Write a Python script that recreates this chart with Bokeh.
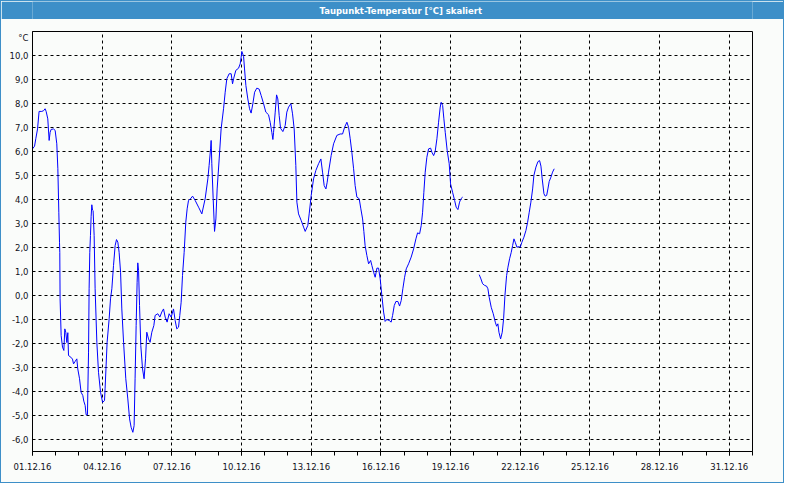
from bokeh.plotting import figure
from bokeh.models import Range1d, FixedTicker, Label
from bokeh.layouts import column
from bokeh.embed import file_html
from bokeh.resources import INLINE

# ---------------- data ----------------
title_text = "Taupunkt-Temperatur [°C] skaliert"
unit_label = "°C"

x_tick_days = [0, 3, 6, 9, 12, 15, 18, 21, 24, 27, 30]
x_tick_labels = ["01.12.16", "04.12.16", "07.12.16", "10.12.16", "13.12.16", "16.12.16",
                 "19.12.16", "22.12.16", "25.12.16", "28.12.16", "31.12.16"]
x_minor_days = list(range(0, 32))

y_ticks = [-6, -5, -4, -3, -2, -1, 0, 1, 2, 3, 4, 5, 6, 7, 8, 9, 10]
y_tick_labels = ["-6,0", "-5,0", "-4,0", "-3,0", "-2,0", "-1,0", "0,0", "1,0", "2,0",
                 "3,0", "4,0", "5,0", "6,0", "7,0", "8,0", "9,0", "10,0"]
unit_tick = 10.75

# hours since 01.12.16 00:00, dew point in °C (first segment)
hours_a = [0.0, 2.1, 3.4, 5.2, 6.8, 9.6, 11.4, 13.0, 14.1, 15.8, 17.2, 18.2, 19.2, 21.7, 23.4,
           25.1, 26.2, 27.2, 27.9, 28.2, 28.5, 29.6, 31.0, 32.4, 33.4, 34.4, 35.5, 36.5, 37.2,
           39.6, 41.3, 42.4, 44.0, 45.8, 46.8, 48.6, 50.2, 52.0, 53.0, 54.4, 55.4, 56.8, 57.2,
           57.9, 58.5, 59.2, 59.9, 60.6, 61.3, 62.0, 62.6, 63.7, 64.7, 66.5, 68.2, 70.3, 72.4,
           74.4, 75.0, 77.1, 79.2, 80.6, 82.0, 83.7, 85.4, 86.8, 88.2, 89.5, 91.0, 92.3, 94.1,
           96.4, 98.5, 100.3, 101.9, 103.7, 105.0, 106.0, 107.1, 108.1, 108.8, 109.6, 110.6,
           111.9, 113.7, 115.3, 116.8, 118.1, 119.9, 121.5, 123.3, 125.4, 126.7, 129.5, 131.6,
           133.6, 135.4, 137.1, 139.1, 141.2, 143.3, 145.7, 147.4, 149.1, 150.9, 152.2, 153.6,
           155.0, 156.7, 158.4, 159.8, 161.2, 163.3, 165.4, 168.1, 171.6, 175.0, 178.4, 181.2,
           182.5, 184.0, 184.6, 185.3, 186.7, 188.1, 189.5, 190.8, 192.9, 194.9, 197.4, 199.1,
           200.8, 203.2, 205.3, 206.7, 207.8, 210.1, 212.9, 214.6, 215.6, 216.3, 218.1, 219.1,
           220.5, 222.5, 224.3, 225.9, 227.7, 229.5, 231.8, 234.2, 236.3, 238.8, 241.1, 243.9,
           245.6, 247.3, 248.4, 249.1, 250.8, 252.2, 253.5, 254.9, 256.3, 258.7, 261.1, 262.8,
           264.6, 267.0, 268.7, 270.4, 272.1, 273.2, 274.9, 277.6, 280.1, 281.8, 284.5, 285.9,
           288.0, 290.4, 292.8, 295.6, 298.0, 299.7, 301.4, 303.2, 304.5, 305.9, 308.6, 311.1,
           314.5, 317.9, 320.4, 322.5, 324.9, 326.6, 328.3, 330.0, 331.8, 333.4, 335.2, 337.6,
           339.3, 341.1, 342.4, 343.7, 345.5, 347.3, 349.4, 350.7, 352.5, 354.1, 355.9, 357.6,
           359.3, 361.0, 362.8, 364.4, 366.2, 368.6, 370.6, 372.1, 373.8, 375.5, 377.6, 379.3,
           381.0, 382.7, 384.5, 386.2, 388.6, 391.3, 393.8, 396.2, 397.9, 400.0, 401.7, 403.1,
           404.4, 405.8, 407.5, 409.3, 411.4, 412.7, 414.5, 416.1, 417.9, 419.6, 421.3, 422.3,
           423.8, 425.1, 426.5, 428.5, 430.6, 432.0, 434.1, 436.2, 437.8, 439.6, 441.3, 442.7,
           444.5]
dew_a = [6.11, 6.22, 6.53, 6.94, 7.67, 7.67, 7.70, 7.78, 7.67, 7.36, 6.46, 6.80, 6.92, 6.94, 6.88,
         6.32, 5.28, 3.47, 2.22, 1.80, -0.14, -1.67, -2.15, -2.29, -1.39, -1.53, -1.96, -1.55, -2.50,
         -2.57, -2.65, -2.85, -2.75, -2.64, -3.06, -3.47, -4.03, -4.17, -4.40, -4.58, -4.97, -4.97, -3.96,
         -2.36, 0.28, 1.80, 2.50, 3.30, 3.78, 3.56, 3.54, 2.50, 0.28, -1.95, -3.20, -4.03, -4.45,
         -4.38, -3.89, -1.95, -0.97, -0.14, 0.28, 1.25, 2.08, 2.33, 2.22, 1.80, 0.97, -0.56, -1.95,
         -3.47, -4.31, -5.14, -5.49, -5.70, -5.42, -3.47, -1.25, 0.55, 1.36, 1.04, -0.42,
         -2.08, -3.06, -3.47, -2.64, -1.53, -1.81, -1.95, -1.53, -1.25, -0.83, -0.76, -0.90,
         -0.69, -0.56, -0.90, -1.11, -0.76, -0.90, -0.56, -1.04, -1.39, -1.32, -0.83, -0.28,
         0.83, 1.80, 3.05, 3.61, 3.96, 4.03, 4.14, 3.96, 3.68, 3.40, 4.03, 4.86,
         5.42, 6.11, 6.46, 5.49, 4.03, 2.67, 3.19, 4.44, 5.69, 6.94, 7.78, 8.47,
         9.03, 9.24, 9.24, 8.82, 9.03, 9.38, 9.47, 9.65, 9.93, 10.17, 9.97, 9.44,
         8.75, 8.19, 7.78, 7.60, 7.99, 8.47, 8.64, 8.60, 8.33, 7.99, 7.64, 7.53,
         7.22, 6.80, 6.50, 6.80, 7.64, 8.36, 8.19, 7.50, 6.97, 6.83, 7.08, 7.64,
         7.85, 7.99, 7.57, 6.94, 5.42, 3.89, 3.40, 3.13, 2.85, 2.67, 2.92, 3.40,
         4.17, 4.86, 5.21, 5.49, 5.69, 5.14, 4.58, 4.44, 4.72, 5.14, 5.83, 6.32,
         6.67, 6.73, 6.73, 7.01, 7.22, 7.01, 6.53, 5.97, 5.28, 4.58, 4.10, 4.03,
         3.61, 3.19, 2.67, 2.08, 1.67, 1.32, 1.46, 1.25, 0.97, 0.76, 1.14, 1.14,
         0.69, 0.00, -0.69, -1.08, -1.00, -1.04, -1.11, -0.83, -0.42, -0.25, -0.25, -0.44,
         -0.21, 0.28, 0.76, 1.11, 1.32, 1.60, 1.94, 2.36, 2.61, 2.57, 2.92, 3.47,
         4.30, 5.14, 5.76, 6.11, 6.14, 5.97, 5.83, 6.00, 6.53, 7.22, 7.85, 8.05,
         7.92, 7.36, 6.80, 6.04, 5.49, 4.65, 4.30, 3.96, 3.68, 3.58, 3.89, 4.03,
         4.10]

# second segment (after the data gap)
hours_b = [461.6, 463.4, 465.1, 467.2, 469.2, 470.6, 471.9, 474.0, 476.1, 478.2, 479.6, 480.9,
           482.0, 483.7, 485.4, 486.8, 488.2, 489.9, 491.3, 493.0, 494.7, 496.1, 497.5, 498.8,
           500.6, 502.3, 504.0, 505.7, 507.8, 509.9, 511.6, 513.3, 515.0, 516.8, 518.1, 520.2,
           522.3, 524.0, 525.4, 526.7, 528.5, 529.8, 531.3, 532.6, 533.9, 535.7, 537.4, 539.1]
dew_b = [0.87, 0.69, 0.49, 0.42, 0.39, 0.28, -0.07, -0.49, -0.76, -1.11, -1.28, -1.18,
         -1.53, -1.81, -1.53, -0.97, 0.00, 0.83, 1.18, 1.53, 1.80, 2.08, 2.36, 2.22,
         2.01, 2.04, 2.01, 2.22, 2.43, 2.71, 3.05, 3.47, 3.89, 4.44, 5.00, 5.35,
         5.58, 5.62, 5.39, 4.86, 4.24, 4.14, 4.17, 4.44, 4.75, 4.93, 5.14, 5.28]

# ---------------- styling ----------------
BLUE = "#3d8fc8"
BG = "#fafcfa"
LABEL_FONT = "DejaVu Sans"
LABEL_COLOR = "#101020"

days_a = [h / 24.0 for h in hours_a]
days_b = [h / 24.0 for h in hours_b]

# Title bar
bar = figure(width=782, height=18, toolbar_location=None, output_backend="svg",
             x_range=Range1d(0, 782), y_range=Range1d(0, 18),
             x_axis_location=None, y_axis_location=None, min_border=0)
bar.background_fill_color = BLUE
bar.border_fill_color = BLUE
bar.outline_line_color = None
bar.grid.visible = False
bar.add_layout(Label(x=400, y=9, text=title_text, text_color="white",
                     text_font=LABEL_FONT, text_font_size="8.5px", text_font_style="bold",
                     text_align="center", text_baseline="middle"))

# Main chart
p = figure(width=782, height=463, toolbar_location=None, output_backend="svg",
           x_range=Range1d(0, 31), y_range=Range1d(-6.5, 11),
           min_border_left=31, min_border_right=31, min_border_top=12, min_border_bottom=31)
p.background_fill_color = BG
p.border_fill_color = BG
p.outline_line_color = "black"
p.outline_line_width = 1

p.line(days_a, dew_a, line_color="#0000ff", line_width=1)
p.line(days_b, dew_b, line_color="#0000ff", line_width=1)

xax = p.xaxis[0]
xax.ticker = FixedTicker(ticks=x_tick_days, minor_ticks=x_minor_days)
xax.major_label_overrides = {d: lab for d, lab in zip(x_tick_days, x_tick_labels)}
xax.major_tick_in = 0
xax.major_tick_out = 4
xax.minor_tick_in = 0
xax.minor_tick_out = 4
xax.major_label_standoff = 7
xax.axis_line_color = "black"
xax.major_tick_line_color = "black"
xax.minor_tick_line_color = "black"
xax.major_label_text_font = LABEL_FONT
xax.major_label_text_font_size = "8.5px"
xax.major_label_text_color = LABEL_COLOR

yax = p.yaxis[0]
yax.ticker = FixedTicker(ticks=y_ticks + [unit_tick], minor_ticks=[])
overrides = {t: lab for t, lab in zip(y_ticks, y_tick_labels)}
overrides[unit_tick] = unit_label
yax.major_label_overrides = overrides
yax.major_tick_in = 0
yax.major_tick_out = 0
yax.minor_tick_in = 0
yax.minor_tick_out = 0
yax.major_label_standoff = 4
yax.axis_line_color = "black"
yax.major_label_text_font = LABEL_FONT
yax.major_label_text_font_size = "8.5px"
yax.major_label_text_color = LABEL_COLOR

p.xgrid.ticker = FixedTicker(ticks=x_tick_days)
p.ygrid.ticker = FixedTicker(ticks=y_ticks)
for g in (p.xgrid, p.ygrid):
    g.grid_line_color = "black"
    g.grid_line_dash = "3 3"
    g.grid_line_width = 1

layout = column(bar, p, spacing=0,
                styles={"border": "1px solid " + BLUE, "background-color": BG})
open("out.html", "w").write(file_html(layout, INLINE))
